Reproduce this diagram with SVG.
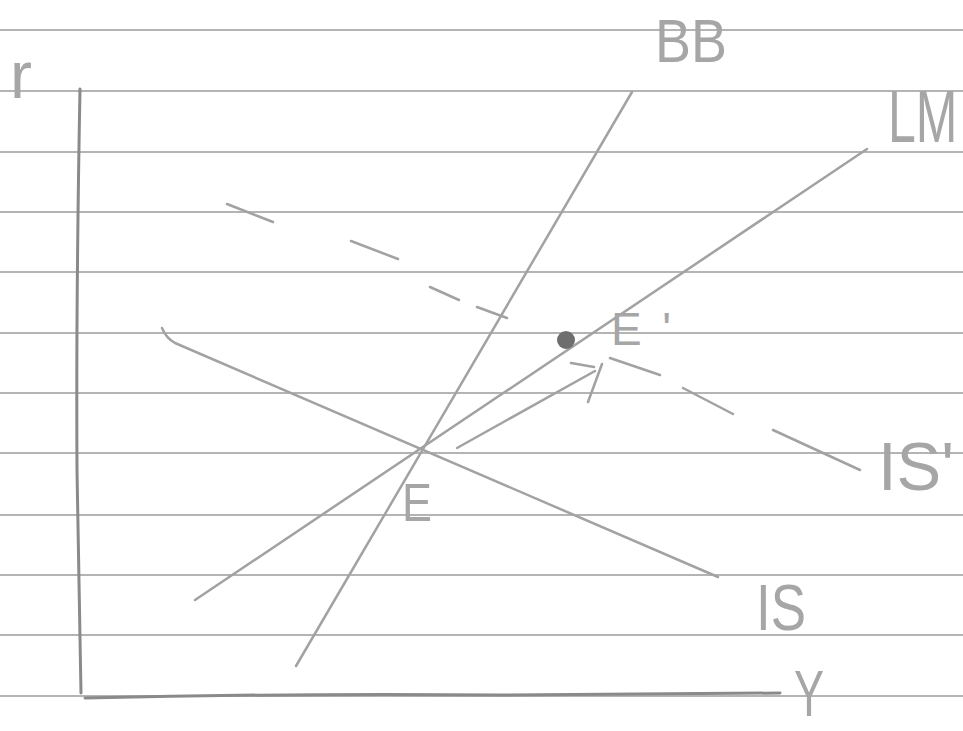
<svg xmlns="http://www.w3.org/2000/svg" width="963" height="731" viewBox="0 0 963 731">
<style>
.paper{stroke:#b4b4b4;stroke-width:2;fill:none}
.axis{stroke:#8a8a8a;stroke-width:3;fill:none;stroke-linecap:round}
.curve{stroke:#a2a2a2;stroke-width:2.5;fill:none;stroke-linecap:round;stroke-linejoin:round}
.lbl{font-family:"Liberation Sans",Arial,sans-serif;fill:#a6a6a6;font-weight:normal}
</style>
<rect width="963" height="731" fill="#ffffff"/>
<g id="paper">
<line class="paper" x1="0" y1="30" x2="963" y2="30"/>
<line class="paper" x1="0" y1="91" x2="963" y2="91"/>
<line class="paper" x1="0" y1="152" x2="963" y2="152"/>
<line class="paper" x1="0" y1="212" x2="963" y2="212"/>
<line class="paper" x1="0" y1="272" x2="963" y2="272"/>
<line class="paper" x1="0" y1="333" x2="963" y2="333"/>
<line class="paper" x1="0" y1="393" x2="963" y2="393"/>
<line class="paper" x1="0" y1="453" x2="963" y2="453"/>
<line class="paper" x1="0" y1="515" x2="963" y2="515"/>
<line class="paper" x1="0" y1="575" x2="963" y2="575"/>
<line class="paper" x1="0" y1="635" x2="963" y2="635"/>
<line class="paper" x1="0" y1="696" x2="963" y2="696"/>
</g>
<g id="axes">
<path class="axis" d="M80 89 Q76 300 77 470 L81 693"/>
<path class="axis" d="M85 698 Q300 693 500 695 L780 693"/>
<text class="lbl" x="10" y="98" font-size="66">r</text>
<text class="lbl" x="794" y="716" font-size="64" textLength="30" lengthAdjust="spacingAndGlyphs">Y</text>
</g>
<g id="BB">
<line class="curve" x1="296" y1="666" x2="632" y2="92" stroke="#ababab"/>
<text class="lbl" x="655" y="62" font-size="62" textLength="72" lengthAdjust="spacingAndGlyphs">BB</text>
</g>
<g id="LM">
<line class="curve" x1="195" y1="600" x2="867" y2="149"/>
<text class="lbl" transform="translate(888 142) scale(1 1.5)" x="0" y="0" font-size="50">LM</text>
</g>
<g id="IS">
<path class="curve" d="M162 328 Q166 338 175 343 L718 577"/>
<text class="lbl" x="756" y="630" font-size="64" textLength="50" lengthAdjust="spacingAndGlyphs">IS</text>
</g>
<g id="IS-prime">
<path class="curve" d="M227 204 L273 222 M351 241 L398 259 M430 287 L459 300 M477 307 L507 318 M610 358 L660 375 M683 388 L733 414 M773 430 L860 470"/>
<text class="lbl" x="878" y="490" font-size="68" textLength="76" lengthAdjust="spacingAndGlyphs">IS'</text>
</g>
<g id="E">
<text class="lbl" x="402" y="521" font-size="54" textLength="30" lengthAdjust="spacingAndGlyphs">E</text>
</g>
<g id="E-prime">
<circle cx="566" cy="340" r="9" fill="#6e6e6e"/>
<text class="lbl" x="611" y="345" font-size="46" textLength="60" lengthAdjust="spacing">E'</text>
</g>
<g id="connectors">
<path class="curve" d="M457 448 L595 371 M571 363 L594 367 M602 364 L588 402"/>
</g>
</svg>
